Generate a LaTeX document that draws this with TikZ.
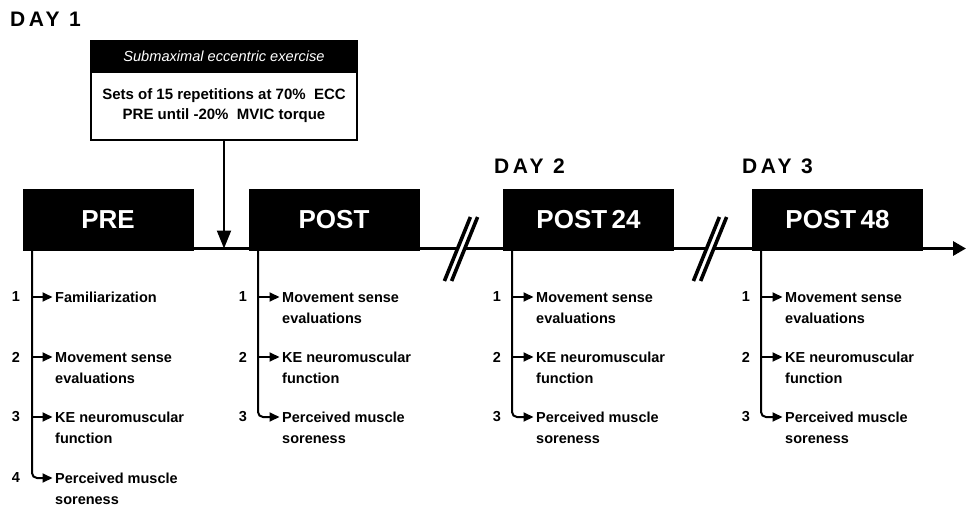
\documentclass[tikz,border=0pt]{standalone}
\usepackage{fontspec}
\setmainfont{Liberation Sans}
\newfontfamily\dayfont[LetterSpace=17]{Liberation Sans}
\usetikzlibrary{arrows.meta}
\tikzset{
  phase/.style={fill=black, draw=black, text=white, inner sep=0pt,
    minimum width=170pt, minimum height=61pt,
    font=\bfseries\fontsize{26}{28}\selectfont},
  item/.style={anchor=base west, align=left, inner sep=0pt,
    font=\bfseries\fontsize{14.5}{21}\selectfont},
  num/.style={inner sep=0pt, font=\bfseries\fontsize{14.5}{16}\selectfont},
  dayl/.style={anchor=west, inner sep=0pt, font=\dayfont\bfseries\fontsize{21}{23}\selectfont},
  tip/.style={-{Triangle[length=10pt,width=9pt]}, line width=2pt, shorten >=2.5pt},
  timeline/.style={-{Triangle[length=13pt,width=14pt]}, line width=3pt},
  breakw/.style={white, line width=7pt},
  breakb/.style={black, line width=3.6pt},
}
\begin{document}
\begin{tikzpicture}[x=1pt,y=-1pt]
\useasboundingbox (0,0) rectangle (966,506);

% day labels
\node[dayl] (d1) at (10,19.5) {DAY 1};
\node[dayl] (d2) at (494,166.5) {DAY 2};
\node[dayl] (d3) at (742,166.5) {DAY 3};

% exercise box
\node[fill=black, draw=black, line width=1.5pt, minimum width=266pt, minimum height=31pt, inner sep=0pt,
  text=white, font=\itshape\fontsize{14.6}{16}\selectfont] (exh) at (224,56.5) {Submaximal eccentric exercise};
\node[draw=black, line width=1.5pt, minimum width=266pt, minimum height=68pt, inner sep=0pt,
  align=center, font=\bfseries\fontsize{15}{20}\selectfont] (exb) at (224,106)
  {Sets of 15 repetitions at 70\%\ \ ECC\\PRE until -20\%\ \ MVIC torque};

% phase boxes
\node[phase] (pre) at (108,219.5) {PRE};
\node[phase] (post) at (334,219.5) {POST};
\node[phase] (p24) at (588.5,219.5) {POST\,24};
\node[phase] (p48) at (837.5,219.5) {POST\,48};

% timeline
\coordinate (t0) at (23,248.5);
\coordinate (t1) at (966,248.5);
\draw[timeline] (t0) -- (t1);

% exercise arrow
\draw[-{Triangle[length=18pt,width=14pt]}, line width=2pt] (exb.south) -- (exb.south |- t0);

% breaks
\foreach \cx [count=\i] in {461,710}{
  \coordinate (bt\i) at (\cx+13,217);
  \coordinate (bb\i) at (\cx-13,281);
  \draw[breakw] (bt\i) -- (bb\i);
  \draw[breakb] ([xshift=-3.6pt]bt\i) -- ([xshift=-3.6pt]bb\i);
  \draw[breakb] ([xshift=3.6pt]bt\i) -- ([xshift=3.6pt]bb\i);
}

% branch origins
\coordinate (vA) at (32,250);
\coordinate (vB) at (258,250);
\coordinate (vC) at (512,250);
\coordinate (vD) at (761,250);

% ---- PRE column
\node[num] (a1) at (16,297) {1};
\node[num] (a2) at (16,357) {2};
\node[num] (a3) at (16,417) {3};
\node[num] (a4) at (16,478) {4};
\node[item] (a1t) at (55,302.2) {Familiarization};
\node[item] (a2t) at (55,383.2) {Movement sense\\evaluations};
\node[item] (a3t) at (55,443.2) {KE neuromuscular\\function};
\node[item] (a4t) at (55,504.2) {Perceived muscle\\soreness};
\draw[tip] (vA |- a1) -- (a1t.west |- a1);
\draw[tip] (vA |- a2) -- (a2t.west |- a2);
\draw[tip] (vA |- a3) -- (a3t.west |- a3);
\draw[tip, rounded corners=5pt] (vA) |- (a4t.west |- a4);

% ---- POST-type columns
\foreach \v/\n in {vB/b, vC/c, vD/d}{
  \path (\v) ++(-15,47) node[num] (\n1) {1};
  \path (\v) ++(-15,107) node[num] (\n2) {2};
  \path (\v) ++(-15,167) node[num] (\n3) {3};
  \path (\v) ++(24,73.2) node[item] (\n1t) {Movement sense\\evaluations};
  \path (\v) ++(24,133.2) node[item] (\n2t) {KE neuromuscular\\function};
  \path (\v) ++(24,193.2) node[item] (\n3t) {Perceived muscle\\soreness};
  \draw[tip] (\v |- \n1) -- (\n1t.west |- \n1);
  \draw[tip] (\v |- \n2) -- (\n2t.west |- \n2);
  \draw[tip, rounded corners=5pt] (\v) |- (\n3t.west |- \n3);
}
\end{tikzpicture}
\end{document}
